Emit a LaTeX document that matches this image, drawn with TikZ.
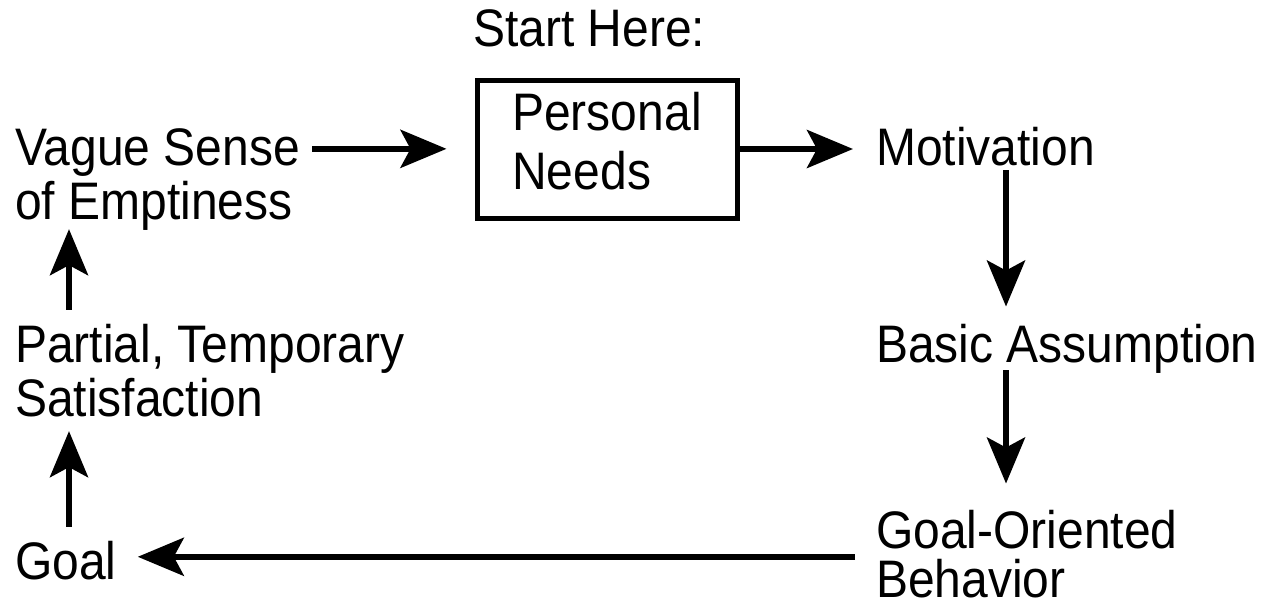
\documentclass[tikz,border=0pt]{standalone}
\usepackage{fontspec}
\setmainfont{Liberation Sans}
\usetikzlibrary{arrows.meta}
% slightly tall lettering
\newcommand\tallbox[1]{\scalebox{1}[1.1]{#1}}
\begin{document}
\begin{tikzpicture}[x=1pt,y=-1pt,
  lbl/.style={inner sep=0pt,anchor=base west,
    font=\fontsize{48}{48}\selectfont},
  arr/.style={line width=6pt,-{Stealth[length=46pt,width=38pt,inset=10pt]}},
  needbox/.style={draw,line width=5pt,inner sep=0pt,minimum width=260pt,
    minimum height=138pt,font=\fontsize{48}{48}\selectfont}]
\useasboundingbox (0,0) rectangle (1273,602);

% labels
\node[lbl] (start) at (473,47) {\tallbox{\strut Start Here:}};
\node[needbox] (needs) at (607,149)
  {\tallbox{\begin{tabular}{@{}l@{}}Personal\\[4pt]Needs\end{tabular}}};
\node[lbl] (vague) at (15,165)
  {\tallbox{\begin{tabular}[t]{@{}l@{}}Vague Sense\\of Emptiness\end{tabular}}};
\node[lbl] (motiv) at (876,165) {\tallbox{\strut Motivation}};
\node[lbl] (basic) at (876,362) {\tallbox{\strut Basic Assumption}};
\node[lbl] (gob) at (876,548)
  {\tallbox{\begin{tabular}[t]{@{}l@{}}Goal-Oriented\\[-4.5pt]Behavior\end{tabular}}};
\node[lbl] (partial) at (15,362)
  {\tallbox{\begin{tabular}[t]{@{}l@{}}Partial, Temporary\\Satisfaction\end{tabular}}};
\node[lbl] (goal) at (15,579) {\tallbox{\strut Goal}};

% the cycle of arrows
\coordinate (va) at ([shift={(12,21)}]vague.north east);
\draw[arr] (va) -- ([xshift=-28pt]va -| needs.west);
\draw[arr] (needs.east) -- ([xshift=-23pt]needs.east -| motiv.west);
\draw[arr] ([shift={(130,-11)}]motiv.south west) -- ([shift={(130,-17)}]basic.north west);
\draw[arr] ([shift={(130,-8)}]basic.south west) -- ([shift={(130,-26)}]gob.north west);
\coordinate (ga) at ([shift={(21,-11)}]goal.east);
\draw[arr] ([xshift=-21pt]ga -| gob.west) -- (ga);
\draw[arr] ([shift={(54,-14)}]goal.north west) -- ([shift={(54,-1)}]partial.south west);
\draw[arr] ([shift={(54,-14)}]partial.north west) -- ([shift={(54,-6)}]vague.south west);
\end{tikzpicture}
\end{document}
